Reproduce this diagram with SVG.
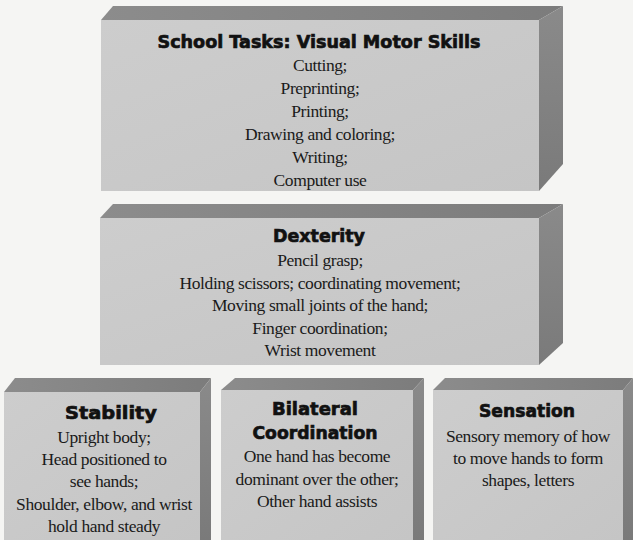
<svg xmlns="http://www.w3.org/2000/svg" width="633" height="540" viewBox="0 0 633 540">
<defs>
<linearGradient id="topG" x1="0" y1="0" x2="1" y2="0">
<stop offset="0" stop-color="#8c8c8c"/><stop offset="1" stop-color="#7c7c7c"/>
</linearGradient>
<linearGradient id="sideG" x1="0" y1="0" x2="0" y2="1">
<stop offset="0" stop-color="#8a8a8a"/><stop offset="1" stop-color="#7a7a7a"/>
</linearGradient>
<linearGradient id="frontG" x1="0" y1="0" x2="1" y2="1">
<stop offset="0" stop-color="#cdcdcd"/><stop offset="1" stop-color="#c5c5c5"/>
</linearGradient>
</defs>
<style>
.front{fill:url(#frontG);}
.top{fill:url(#topG);}
.side{fill:url(#sideG);}
.title{font-family:"DejaVu Sans","Lato",sans-serif;font-weight:bold;font-size:18px;fill:#111;stroke:#111;stroke-width:0.7px;text-anchor:middle;}
.body{font-family:"Liberation Serif","DejaVu Serif",serif;font-size:17.5px;letter-spacing:-0.4px;fill:#1a1a1a;text-anchor:middle;}
</style>
<rect width="633" height="540" fill="#f5f5f3"/>

<g id="school-tasks">
<polygon class="top" points="101,20 113,6 563,6 539,20"/>
<polygon class="side" points="539,20 563,6 563,164 539,191"/>
<rect class="front" x="101" y="20" width="438" height="171"/>
<text class="title" x="319" y="48" textLength="323" lengthAdjust="spacingAndGlyphs">School Tasks: Visual Motor Skills</text>
<text class="body" x="320" y="71">Cutting;</text>
<text class="body" x="320" y="94">Preprinting;</text>
<text class="body" x="320" y="117">Printing;</text>
<text class="body" x="320" y="140">Drawing and coloring;</text>
<text class="body" x="320" y="163">Writing;</text>
<text class="body" x="320" y="186">Computer use</text>
</g>

<g id="dexterity">
<polygon class="top" points="100,218 113,204 563,204 539,218"/>
<polygon class="side" points="539,218 563,204 563,343 539,365"/>
<rect class="front" x="100" y="218" width="439" height="147"/>
<text class="title" x="319" y="242" textLength="92" lengthAdjust="spacingAndGlyphs">Dexterity</text>
<text class="body" x="320" y="266">Pencil grasp;</text>
<text class="body" x="320" y="289">Holding scissors; coordinating movement;</text>
<text class="body" x="320" y="311">Moving small joints of the hand;</text>
<text class="body" x="320" y="334">Finger coordination;</text>
<text class="body" x="320" y="356">Wrist movement</text>
</g>

<g id="stability">
<polygon class="top" points="4,392 15,378 211,378 200,392"/>
<polygon class="side" points="200,392 211,378 211,540 200,540"/>
<rect class="front" x="4" y="392" width="196" height="148"/>
<text class="title" x="111" y="419" textLength="92" lengthAdjust="spacingAndGlyphs">Stability</text>
<text class="body" x="104" y="443">Upright body;</text>
<text class="body" x="104" y="465">Head positioned to</text>
<text class="body" x="104" y="487">see hands;</text>
<text class="body" x="104" y="510">Shoulder, elbow, and wrist</text>
<text class="body" x="104" y="532">hold hand steady</text>
</g>

<g id="bilateral">
<polygon class="top" points="221,390 235,378 424,378 413,390"/>
<polygon class="side" points="413,390 424,378 424,540 413,540"/>
<rect class="front" x="221" y="390" width="192" height="150"/>
<text class="title" x="315" y="415" textLength="86" lengthAdjust="spacingAndGlyphs">Bilateral</text>
<text class="title" x="315" y="439" textLength="125" lengthAdjust="spacingAndGlyphs">Coordination</text>
<text class="body" x="317" y="462">One hand has become</text>
<text class="body" x="317" y="485">dominant over the other;</text>
<text class="body" x="317" y="507">Other hand assists</text>
</g>

<g id="sensation">
<polygon class="top" points="433,390 445,378 633,378 623,390"/>
<polygon class="side" points="623,390 633,378 633,540 623,540"/>
<rect class="front" x="433" y="390" width="190" height="150"/>
<text class="title" x="527" y="417" textLength="96" lengthAdjust="spacingAndGlyphs">Sensation</text>
<text class="body" x="528" y="442">Sensory memory of how</text>
<text class="body" x="528" y="464">to move hands to form</text>
<text class="body" x="528" y="486">shapes, letters</text>
</g>
</svg>
